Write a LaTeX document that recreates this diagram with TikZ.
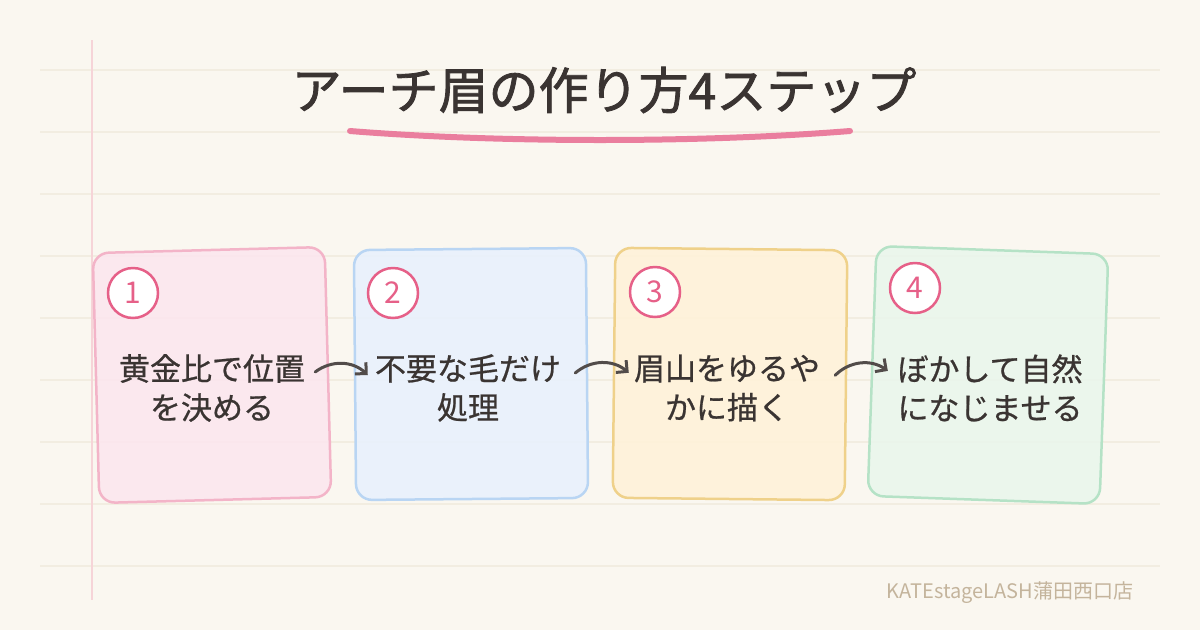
\documentclass[tikz,border=0pt]{standalone}
\usepackage{fontspec}
\setmainfont{Noto Sans CJK JP}
\newfontfamily\titlefont[FakeBold=1.6]{Noto Sans CJK JP}
\newfontfamily\bodyfont[FakeBold=0.7]{Noto Sans CJK JP}
\usepackage{tikz}
\usetikzlibrary{arrows.meta,positioning,calc}
\definecolor{PaperBg}{RGB}{250,247,240}
\definecolor{RuleLine}{RGB}{242,237,225}
\definecolor{MarginRed}{RGB}{246,212,216}
\definecolor{InkDark}{RGB}{58,52,50}
\definecolor{ArrowInk}{RGB}{82,76,74}
\definecolor{MarkPink}{RGB}{234,126,158}
\definecolor{NumPink}{RGB}{230,96,136}
\definecolor{StepPink}{RGB}{252,230,238}
\definecolor{EdgePink}{RGB}{243,180,200}
\definecolor{StepBlue}{RGB}{232,241,253}
\definecolor{EdgeBlue}{RGB}{185,213,243}
\definecolor{StepYellow}{RGB}{255,242,217}
\definecolor{EdgeYellow}{RGB}{239,209,138}
\definecolor{StepGreen}{RGB}{233,246,236}
\definecolor{EdgeGreen}{RGB}{181,226,198}
\definecolor{FootGray}{RGB}{196,180,156}
\tikzset{
    stepbox/.style={draw, line width=2.5pt, rounded corners=16pt, minimum width=232pt, minimum height=250pt, fill opacity=0.88, text opacity=1},
    numcirc/.style={circle, draw=NumPink, line width=2.5pt, fill=white, minimum size=50pt, inner sep=0pt, text=NumPink, font=\fontsize{30}{30}\selectfont},
    steptext/.style={align=center, text=InkDark, font=\bodyfont\fontsize{31}{39}\selectfont},
    flowarr/.style={-{Straight Barb[length=8pt,width=16pt]}, line width=3pt, line cap=round, ArrowInk, bend left=40},
    ruleline/.style={RuleLine, line width=1.5pt},
}
\begin{document}
\begin{tikzpicture}[x=1pt,y=1pt]
% paper
\fill[PaperBg] (0,0) rectangle (1200,-630);
\useasboundingbox (0,0) rectangle (1200,-630);
\foreach \y in {70,132,194,256,318,380,442,504,566}
    \draw[ruleline] (40,-\y) -- (1160,-\y);
\draw[MarginRed, line width=1.5pt] (92,-40) -- (92,-600);

% title
\node[text=InkDark, font=\titlefont\fontsize{50}{50}\selectfont] (title) at (604,-90) {アーチ眉の作り方4ステップ};
\coordinate (ulA) at (350,-131);
\coordinate (ulB) at (850,-131);
\draw[MarkPink, line width=6pt, line cap=round] (ulA) .. controls (500,-143) and (700,-143) .. (ulB);

% steps
\node[stepbox, draw=EdgePink, fill=StepPink, rotate=1.5] (b1) at (212,-375) {};
\node[stepbox, draw=EdgeBlue, fill=StepBlue, rotate=0.5] (b2) at (471,-374) {};
\node[stepbox, draw=EdgeYellow, fill=StepYellow, rotate=-0.6] (b3) at (730,-374) {};
\node[stepbox, draw=EdgeGreen, fill=StepGreen, rotate=-2] (b4) at (988,-375) {};

\node[numcirc] (n1) at (133,-293) {1};
\node[numcirc] (n2) at (393,-293) {2};
\node[numcirc] (n3) at (655,-292) {3};
\node[numcirc] (n4) at (915,-288) {4};

\node[steptext] (t1) at (212,-388) {黄金比で位置\\を決める};
\node[steptext] (t2) at (468,-388) {不要な毛だけ\\処理};
\node[steptext] (t3) at (727,-388) {眉山をゆるや\\かに描く};
\node[steptext] (t4) at (990,-388) {ぼかして自然\\になじませる};

\draw[flowarr] ([xshift=-14pt]b1.east) to ([xshift=14pt]b2.west);
\draw[flowarr] ([xshift=-13pt]b2.east) to ([xshift=16pt]b3.west);
\draw[flowarr] ([xshift=-12pt]b3.east) to ([xshift=17pt]b4.west);

% footer
\node[text=FootGray, font=\fontsize{20}{20}\selectfont] (shop) at (1010,-593) {KATEstageLASH蒲田西口店};
\end{tikzpicture}
\end{document}
